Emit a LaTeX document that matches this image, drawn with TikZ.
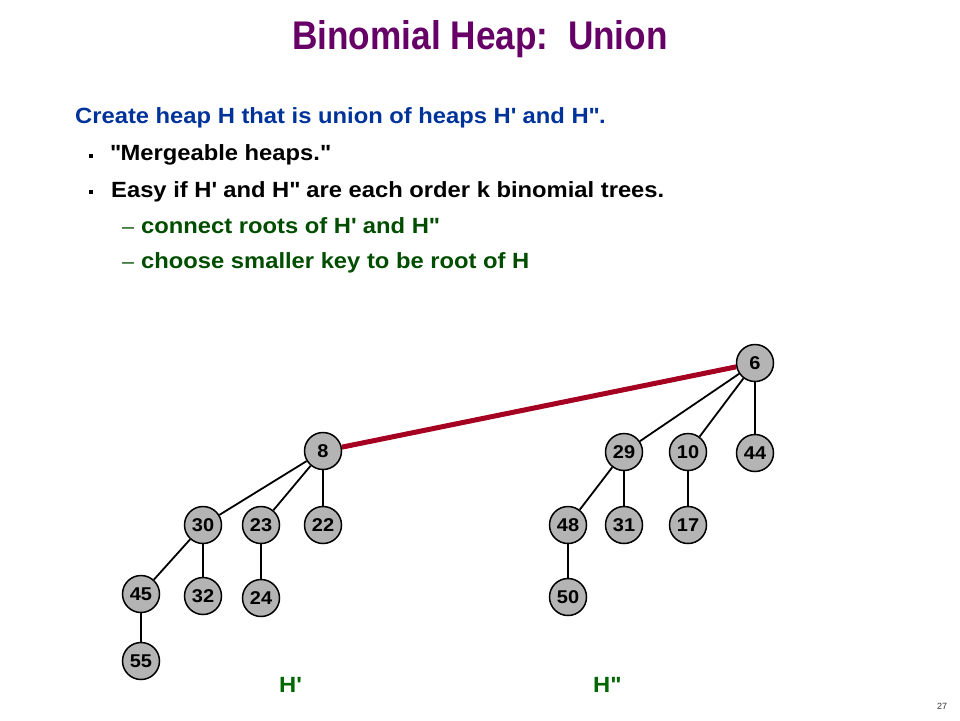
\documentclass[tikz,border=0pt]{standalone}
\usepackage{fontspec}
\setmainfont{Liberation Sans}
\newfontfamily\bodyfont[FakeStretch=1.08]{Liberation Sans}
\newfontfamily\titlefont[FakeStretch=0.88]{Liberation Sans}
\newcommand\myHp{H\textquotesingle}
\newcommand\myHpp{H\textquotedbl}
\definecolor{titlepurple}{RGB}{102,0,102}
\definecolor{bodyblue}{RGB}{0,51,153}
\definecolor{subgreen}{RGB}{0,77,0}
\definecolor{labelgreen}{RGB}{0,102,0}
\definecolor{nodegray}{RGB}{180,180,180}
\definecolor{unionred}{RGB}{165,0,33}
\tikzset{
  hnode/.style={circle, draw=black, line width=1.5pt, fill=nodegray, minimum size=37pt, inner sep=0pt, font=\bodyfont\fontsize{18.5}{18.5}\selectfont\bfseries},
  treeedge/.style={line width=1.8pt, draw=black},
  unionedge/.style={line width=5pt, draw=unionred},
  bodytext/.style={anchor=base west, inner sep=0pt, font=\bodyfont\fontsize{22}{24}\selectfont\bfseries},
  dashtext/.style={anchor=base west, inner sep=0pt, font=\bodyfont\fontsize{20}{24}\selectfont},
  bulletsq/.style={fill=black, draw=none, minimum size=4.5pt, inner sep=0pt, rectangle}
}
\begin{document}
\begin{tikzpicture}[x=1pt,y=-1pt]
\useasboundingbox (0,0) rectangle (960,720);
% title
\node[anchor=base, inner sep=0pt, text=titlepurple, font=\titlefont\fontsize{40}{44}\selectfont\bfseries] (title) at (480,49) {Binomial Heap:\ \ Union};
% body text
\node[bodytext, text=bodyblue] (l1) at (75,123) {Create heap H that is union of heaps \myHp{} and \myHpp.};
\node[bulletsq] (b1) at (91,156) {};
\node[bodytext, text=black] (l2) at (110,160) {\textquotedbl Mergeable heaps.\textquotedbl};
\node[bulletsq] (b2) at (91,192) {};
\node[bodytext, text=black] (l3) at (111,197) {Easy if \myHp{} and \myHpp{} are each order k binomial trees.};
\node[dashtext, text=subgreen] (d1) at (122,233) {\textendash};
\node[bodytext, text=subgreen] (l4) at (141,233) {connect roots of \myHp{} and \myHpp};
\node[dashtext, text=subgreen] (d2) at (122,268) {\textendash};
\node[bodytext, text=subgreen] (l5) at (141,268) {choose smaller key to be root of H};
% tree nodes
\node[hnode] (n6) at (755,363) {6};
\node[hnode] (n8) at (323,451) {8};
\node[hnode] (n29) at (624,452) {29};
\node[hnode] (n10) at (688,452) {10};
\node[hnode] (n44) at (755,453) {44};
\node[hnode] (n30) at (203,525) {30};
\node[hnode] (n23) at (261,525) {23};
\node[hnode] (n22) at (323,525) {22};
\node[hnode] (n48) at (568,525) {48};
\node[hnode] (n31) at (624,525) {31};
\node[hnode] (n17) at (688,525) {17};
\node[hnode] (n45) at (141,594) {45};
\node[hnode] (n32) at (203,596) {32};
\node[hnode] (n24) at (261,598) {24};
\node[hnode] (n50) at (568,597) {50};
\node[hnode] (n55) at (141,661) {55};
% edges
\draw[unionedge] (n8) -- (n6);
\draw[treeedge] (n8) -- (n30);
\draw[treeedge] (n8) -- (n23);
\draw[treeedge] (n8) -- (n22);
\draw[treeedge] (n30) -- (n45);
\draw[treeedge] (n30) -- (n32);
\draw[treeedge] (n23) -- (n24);
\draw[treeedge] (n45) -- (n55);
\draw[treeedge] (n6) -- (n29);
\draw[treeedge] (n6) -- (n10);
\draw[treeedge] (n6) -- (n44);
\draw[treeedge] (n29) -- (n48);
\draw[treeedge] (n29) -- (n31);
\draw[treeedge] (n10) -- (n17);
\draw[treeedge] (n48) -- (n50);
% labels
\node[bodytext, text=labelgreen] (hp) at (279,692) {\myHp};
\node[bodytext, text=labelgreen] (hpp) at (593,692) {\myHpp};
\node[inner sep=0pt, text=black!80, font=\fontsize{9}{9}\selectfont] (pg) at (942,706) {27};
\end{tikzpicture}
\end{document}
